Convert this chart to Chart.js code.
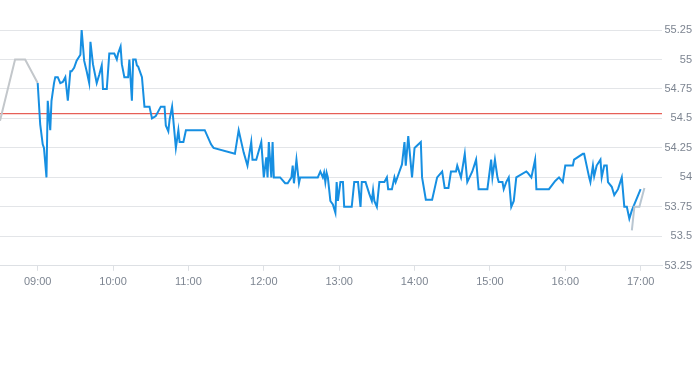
<!DOCTYPE html>
<html>
<head>
<meta charset="utf-8">
<script src="https://cdn.jsdelivr.net/npm/chart.js@4/dist/chart.umd.min.js"></script>
<style>
  html, body { margin: 0; padding: 0; background: #fff; }
  #wrap { width: 693px; height: 365px; }
</style>
</head>
<body>
<div id="wrap"><canvas id="chart"></canvas></div>
<script>
// intraday price, minutes shown as HH:MM
const sessionTimes = [
  "09:00","09:02","09:04","09:05","09:07","09:08","09:10","09:11","09:13","09:14",
  "09:16","09:18","09:20","09:22","09:24","09:26","09:27","09:29","09:31","09:34",
  "09:35","09:37","09:39","09:41","09:42","09:44","09:47","09:49","09:51","09:52",
  "09:55","09:57","10:01","10:03","10:04","10:06","10:07","10:09","10:12","10:13",
  "10:15","10:16","10:18","10:19","10:20","10:23","10:25","10:29","10:31","10:34",
  "10:36","10:38","10:41","10:42","10:44","10:45","10:47","10:50","10:52","10:53",
  "10:56","10:58","11:13","11:18","11:20","11:37","11:40","11:44","11:47","11:50",
  "11:51","11:54","11:58","12:00","12:02","12:03","12:04","12:06","12:07","12:08",
  "12:13","12:17","12:19","12:22","12:23","12:24","12:26","12:28","12:29","12:43",
  "12:45","12:47","12:48","12:49","12:50","12:51","12:53","12:55","12:57","12:58",
  "12:59","13:01","13:03","13:04","13:10","13:12","13:15","13:17","13:18","13:21",
  "13:24","13:26","13:27","13:28","13:30","13:32","13:36","13:38","13:39","13:42",
  "13:44","13:45","13:48","13:50","13:52","13:53","13:55","13:58","14:00","14:05",
  "14:06","14:09","14:14","14:18","14:22","14:24","14:27","14:29","14:33","14:34",
  "14:37","14:40","14:42","14:46","14:49","14:51","14:58","15:01","15:02","15:04",
  "15:06","15:07","15:10","15:11","15:13","15:15","15:17","15:19","15:21","15:29",
  "15:30","15:33","15:36","15:37","15:47","15:52","15:55","15:58","16:00","16:06",
  "16:07","16:14","16:15","16:19","16:20","16:22","16:23","16:25","16:28","16:29",
  "16:31","16:33","16:34","16:37","16:39","16:42","16:45","16:47","16:49","16:51",
  "16:53","17:00"
];
const sessionPrices = [
  54.80,54.45,54.28,54.25,54.00,54.65,54.40,54.65,54.80,54.85,
  54.85,54.80,54.81,54.85,54.65,54.90,54.90,54.93,54.99,55.04,
  55.25,54.99,54.90,54.80,55.15,54.96,54.80,54.87,54.95,54.75,
  54.75,55.05,55.05,55.00,55.05,55.11,54.96,54.85,54.85,55.00,
  54.65,55.00,55.00,54.95,54.94,54.85,54.60,54.60,54.50,54.52,
  54.56,54.60,54.60,54.44,54.39,54.49,54.60,54.25,54.40,54.30,
  54.30,54.40,54.40,54.28,54.25,54.20,54.40,54.21,54.10,54.30,
  54.15,54.15,54.30,54.00,54.17,54.00,54.30,54.00,54.30,54.00,
  54.00,53.95,53.95,54.00,54.10,53.95,54.15,53.95,54.00,54.00,
  54.05,54.00,54.04,53.96,54.04,54.00,53.80,53.77,53.70,53.96,
  53.80,53.96,53.96,53.75,53.75,53.96,53.96,53.75,53.96,53.96,
  53.86,53.80,53.89,53.80,53.75,53.96,53.96,54.00,53.90,53.90,
  54.00,53.96,54.05,54.11,54.30,54.10,54.35,54.00,54.25,54.30,
  54.00,53.81,53.81,54.00,54.05,53.91,53.91,54.05,54.05,54.10,
  54.00,54.20,53.96,54.05,54.15,53.90,53.90,54.15,54.00,54.15,
  54.00,53.96,53.96,53.90,53.96,54.00,53.75,53.80,54.00,54.05,
  54.04,54.00,54.15,53.90,53.90,53.97,54.00,53.96,54.10,54.10,
  54.15,54.20,54.20,54.00,53.96,54.10,54.01,54.10,54.15,54.00,
  54.10,54.10,53.96,53.92,53.85,53.90,54.00,53.75,53.75,53.65,
  53.72,53.90
];

// pre- and post-market trades (grey)
const preTimes = ["08:30","08:42","08:50","09:00"];
const prePrices = [54.48,55.00,55.00,54.80];
const postTimes = ["16:53","16:55","16:59","17:03"];
const postPrices = [53.55,53.75,53.75,53.91];

const prevClose = 54.54;

const xTickLabels = ["09:00","10:00","11:00","12:00","13:00","14:00","15:00","16:00","17:00"];
const xStart = "08:30";
const xEnd = "17:17";
const yMin = 53.25;
const yMax = 55.25;
const yStep = 0.25;

const toMin = (s) => {
  const [h, m] = s.split(":");
  return Number(h) * 60 + Number(m);
};
const pad = (n) => String(n).padStart(2, "0");
const toLabel = (v) => pad(Math.floor(v / 60)) + ":" + pad(v % 60);
const pairs = (times, values) => times.map((t, i) => ({ x: toMin(t), y: values[i] }));

const tickFont = { family: "'Liberation Sans', Arial, sans-serif", size: 11 };

const ctx = document.getElementById("chart").getContext("2d");
new Chart(ctx, {
  type: "line",
  data: {
    datasets: [
      {
        data: pairs(sessionTimes, sessionPrices),
        borderColor: "#168fe2",
        borderWidth: 2,
        pointRadius: 0,
        order: 2,
      },
      {
        data: pairs(preTimes, prePrices),
        borderColor: "#c3c7cb",
        borderWidth: 2,
        pointRadius: 0,
        order: 1,
      },
      {
        data: pairs(postTimes, postPrices),
        borderColor: "#b9c6d1",
        borderWidth: 2,
        pointRadius: 0,
        order: 1,
      },
      {
        data: [
          { x: toMin(xStart), y: prevClose },
          { x: toMin(xEnd), y: prevClose },
        ],
        borderColor: "#e0392f",
        borderWidth: 1,
        pointRadius: 0,
        order: 3,
      },
    ],
  },
  options: {
    responsive: true,
    maintainAspectRatio: false,
    animation: false,
    layout: { padding: { top: 30, right: 1, bottom: 71, left: 0 } },
    plugins: { legend: { display: false }, tooltip: { enabled: false } },
    scales: {
      x: {
        type: "linear",
        min: toMin(xStart),
        max: toMin(xEnd),
        afterBuildTicks: (axis) => {
          axis.ticks = xTickLabels.map((t) => ({ value: toMin(t) }));
        },
        ticks: {
          callback: (v) => toLabel(v),
          color: "#7d8591",
          font: tickFont,
          maxRotation: 0,
          padding: 5,
        },
        grid: { drawOnChartArea: false, drawTicks: true, tickLength: 5, color: "#dde0e4" },
        border: { display: true, color: "#dde0e4" },
      },
      y: {
        position: "right",
        min: yMin,
        max: yMax,
        afterFit: (axis) => { axis.width = 30; },
        ticks: {
          stepSize: yStep,
          callback: (v) => String(v),
          color: "#7d8591",
          font: tickFont,
          crossAlign: "far",
          padding: 4,
        },
        grid: { color: "#e3e5e8", drawTicks: false },
        border: { display: false },
      },
    },
  },
});
</script>
</body>
</html>
